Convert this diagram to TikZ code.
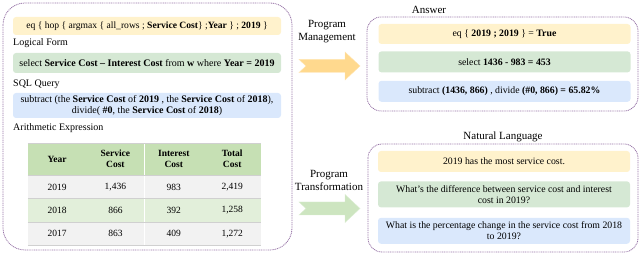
\documentclass[tikz,border=0pt]{standalone}
\usepackage{fontspec}
\setmainfont{Liberation Serif}
\usetikzlibrary{positioning}
\definecolor{pyellow}{HTML}{FFF2CC}
\definecolor{pgreen}{HTML}{D5E8D4}
\definecolor{pblue}{HTML}{DAE8FC}
\definecolor{ppurple}{HTML}{9673A6}
\definecolor{thead}{HTML}{C6E0B4}
\definecolor{tgrey}{HTML}{F2F2F2}
\definecolor{tgreen}{HTML}{E2EFDA}
\definecolor{tline}{HTML}{D0D0D0}
\definecolor{ayellow}{HTML}{FFD98E}
\definecolor{agreen}{HTML}{CDE5C0}
\begin{document}
\begin{tikzpicture}[x=1pt,y=-1pt, every node/.style={font=\fontsize{10}{11.5}\selectfont,align=center,inner sep=1pt}, group/.style={draw=ppurple,line width=0.8pt,dash pattern=on 1pt off 0.8pt,rounded corners=#1}, group/.default=14pt, pbox/.style={rounded corners=3pt,minimum width=268pt}, abox/.style={rounded corners=3pt,minimum width=252pt,minimum height=21pt,font=\fontsize{9.8}{11.5}\selectfont}, lbl/.style={anchor=west,font=\fontsize{10}{12}\selectfont}, head/.style={font=\fontsize{11}{13}\selectfont}, thd/.style={fill=thead,minimum width=58pt,minimum height=32pt,font=\fontsize{9.5}{11}\selectfont\bfseries}, tcell/.style={minimum width=58pt,minimum height=23pt,font=\fontsize{9.5}{11}\selectfont}, bigarr/.style={line width=0.4pt,line join=miter}]
\useasboundingbox (0,0) rectangle (640,253);
% left panel
\draw[group=22pt] (3,3) rectangle (292,250);
\node[pbox,fill=pyellow,minimum height=18pt,font=\fontsize{9.6}{11}\selectfont] (lform) at (147,26) {eq \{ hop \{ argmax \{ all\_rows ; \textbf{Service Cost}\} ;\textbf{Year} \} ; \textbf{2019} \}};
\node[lbl] (lformlbl) at (12,43) {Logical Form};
\node[pbox,fill=pgreen,minimum height=20pt] (sql) at (147,63) {select \textbf{Service Cost -- Interest Cost} from \textbf{w} where \textbf{Year = 2019}};
\node[lbl] (sqllbl) at (12,84) {SQL Query};
\node[pbox,fill=pblue,minimum height=25pt] (arith) at (147,105.5) {subtract (the \textbf{Service Cost} of \textbf{2019} , the \textbf{Service Cost} of \textbf{2018}),\\divide( \textbf{\#0}, the \textbf{Service Cost} of \textbf{2018})};
\node[lbl] (arithlbl) at (12,128) {Arithmetic Expression};
% table
\node[thd] (h1) at (57,159) {Year};
\node[thd,right=0pt of h1] (h2) {Service\\Cost};
\node[thd,right=0pt of h2] (h3) {Interest\\Cost};
\node[thd,right=0pt of h3] (h4) {Total\\Cost};
\node[tcell,fill=tgrey,below=0pt of h1] (a1) {2019};
\node[tcell,fill=tgrey,below=0pt of h2] (a2) {1,436};
\node[tcell,fill=tgrey,below=0pt of h3] (a3) {983};
\node[tcell,fill=tgrey,below=0pt of h4] (a4) {2,419};
\node[tcell,fill=tgreen,below=0pt of a1] (b1) {2018};
\node[tcell,fill=tgreen,below=0pt of a2] (b2) {866};
\node[tcell,fill=tgreen,below=0pt of a3] (b3) {392};
\node[tcell,fill=tgreen,below=0pt of a4] (b4) {1,258};
\node[tcell,fill=tgrey,below=0pt of b1] (c1) {2017};
\node[tcell,fill=tgrey,below=0pt of b2] (c2) {863};
\node[tcell,fill=tgrey,below=0pt of b3] (c3) {409};
\node[tcell,fill=tgrey,below=0pt of b4] (c4) {1,272};
\draw[tline,line width=0.4pt] (h1.north west) -- (h4.north east); \draw[tline,line width=0.4pt] (a1.north west) -- (a4.north east); \draw[tline,line width=0.4pt] (b1.north west) -- (b4.north east); \draw[tline,line width=0.4pt] (c1.north west) -- (c4.north east); \draw[tline,line width=0.4pt] (c1.south west) -- (c4.south east);
% middle arrows
\node[head] (pm) at (327,31.5) {Program\\Management};
\filldraw[bigarr,fill=ayellow,draw=ayellow!70!white,shift={(299,66)}] (0,-6.5) -- (46,-6.5) -- (46,-14) -- (61,0) -- (46,14) -- (46,6.5) -- (0,6.5) -- (7,0) -- cycle;
\node[head] (pt) at (329,180) {Program\\Transformation};
\filldraw[bigarr,fill=agreen,draw=agreen!70!white,shift={(299,208.5)}] (0,-6.5) -- (46,-6.5) -- (46,-14) -- (61,0) -- (46,14) -- (46,6.5) -- (0,6.5) -- (7,0) -- cycle;
% answer panel
\draw[group=14pt] (367,17) rectangle (638,111);
\node[head] (anslbl) at (429,10) {Answer};
\node[abox,fill=pyellow,minimum height=20pt] (ans1) at (504.5,34) {eq \{ \textbf{2019 ; 2019} \} = \textbf{True}};
\node[abox,fill=pgreen,below=7pt of ans1] (ans2) {select \textbf{1436 - 983 = 453}};
\node[abox,fill=pblue,below=8pt of ans2] (ans3) {subtract \textbf{(1436, 866)} , divide \textbf{(\#0, 866) = 65.82\%}};
% natural language panel
\draw[group=14pt] (368,144) rectangle (638,252);
\node[head] (nllbl) at (503,137) {Natural Language};
\node[abox,fill=pyellow] (nl1) at (504,161.5) {2019 has the most service cost.};
\node[abox,fill=pgreen,minimum height=26pt,below=9pt of nl1] (nl2) {What’s the difference between service cost and interest\\cost in 2019?};
\node[abox,fill=pblue,minimum height=26pt,below=10pt of nl2] (nl3) {What is the percentage change in the service cost from 2018\\to 2019?};
\end{tikzpicture}
\end{document}
